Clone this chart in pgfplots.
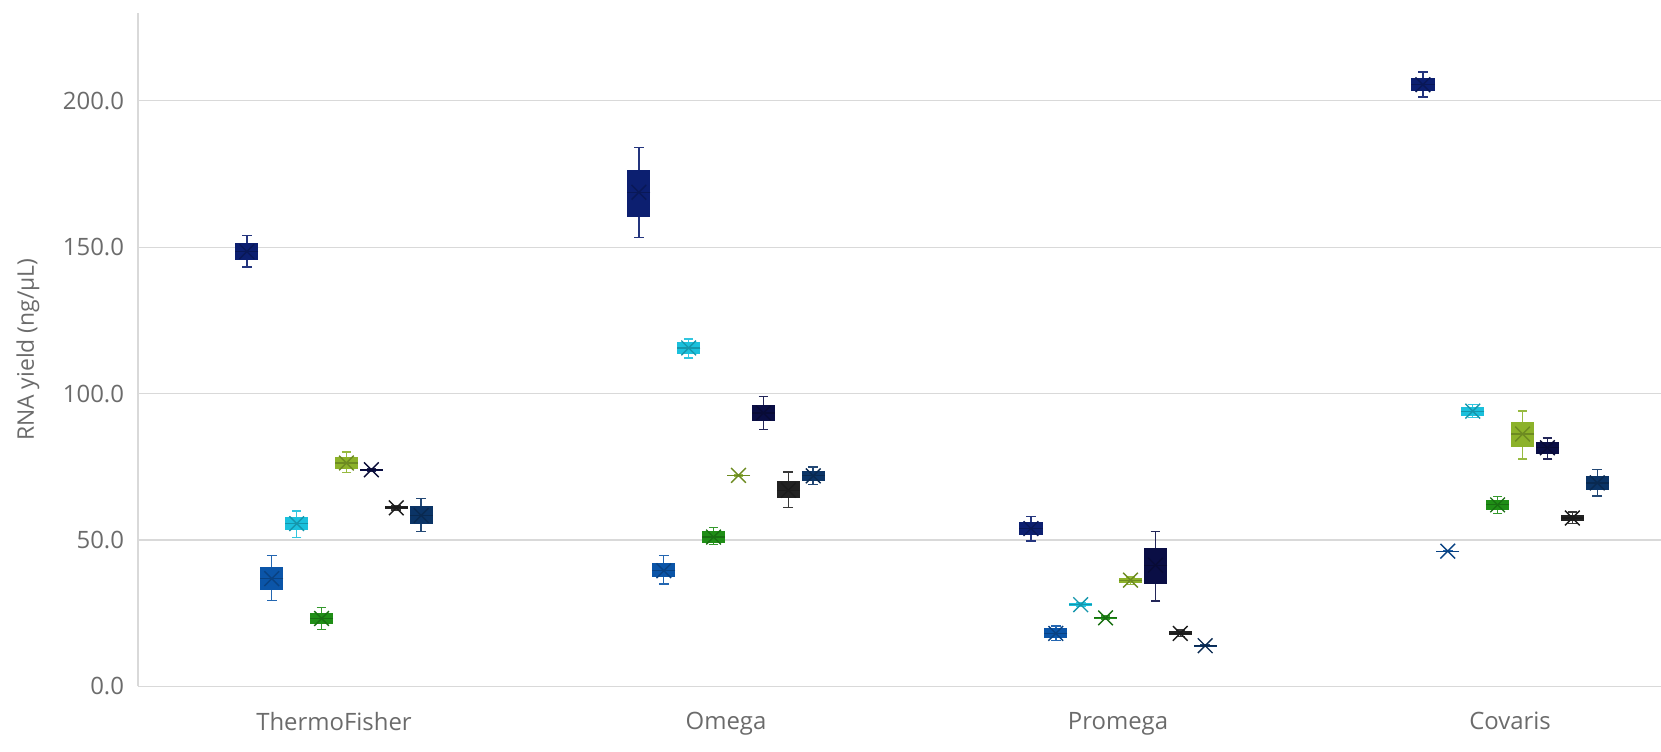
\documentclass[border=0pt]{standalone}
\usepackage{fontspec}
\setmainfont{Open Sans}
\usepackage{pgfplots}
\usepackage{pgfplotstable}
\pgfplotsset{compat=1.18}
\definecolor{cA}{HTML}{0C1F70}
\definecolor{cB}{HTML}{0B55A8}
\definecolor{cC}{HTML}{1BC0DC}
\definecolor{cD}{HTML}{1F8E16}
\definecolor{cE}{HTML}{8CB22A}
\definecolor{cF}{HTML}{0A0E45}
\definecolor{cG}{HTML}{222222}
\definecolor{cH}{HTML}{0B3466}
\definecolor{txt}{HTML}{6B6B6B}
\definecolor{grd}{HTML}{D9D9D9}
% one table per series: position, lower whisker, lower quartile, median, upper quartile, upper whisker, mean
\pgfplotstableread{
x lw lq med uq uw avg
-0.2223 143.2 145.8 148.5 151.4 154.1 148.5
0.7777 153.3 160.4 168.8 176.3 184.0 168.8
1.7777 49.7 51.6 53.9 56.0 58.1 53.9
2.7777 201.3 203.3 205.5 207.8 209.9 205.5
}\tA
\pgfplotstableread{
x lw lq med uq uw avg
-0.1588 29.4 32.9 36.8 40.8 44.8 36.8
0.8412 35.0 37.2 39.5 42.2 44.8 39.5
1.8412 15.6 16.4 18.1 19.8 20.6 18.1
2.8412 46.0 46.1 46.2 46.3 46.4 46.2
}\tB
\pgfplotstableread{
x lw lq med uq uw avg
-0.0953 50.8 53.3 55.6 57.8 59.9 55.6
0.9047 112.2 113.7 115.6 117.5 118.6 115.6
1.9047 27.2 27.5 27.9 28.4 28.7 27.9
2.9047 91.8 92.4 94.0 95.5 96.2 94.0
}\tC
\pgfplotstableread{
x lw lq med uq uw avg
-0.0318 19.5 21.3 23.2 25.1 27.0 23.2
0.9682 48.4 49.1 51.0 53.1 54.2 51.0
1.9682 22.8 23.0 23.4 23.8 24.0 23.4
2.9682 59.0 60.1 62.0 63.8 64.9 62.0
}\tD
\pgfplotstableread{
x lw lq med uq uw avg
0.0318 73.0 74.3 76.3 78.5 80.0 76.3
1.0318 71.9 72.0 72.1 72.2 72.3 72.1
2.0318 34.9 35.3 36.3 37.0 37.4 36.3
3.0318 77.7 81.9 86.2 90.2 94.0 86.2
}\tE
\pgfplotstableread{
x lw lq med uq uw avg
0.0953 73.6 73.9 74.0 74.1 74.4 74.0
1.0953 87.7 90.5 93.4 96.2 99.0 93.4
2.0953 29.2 35.1 41.4 47.4 53.0 41.4
3.0953 77.7 79.4 81.5 83.4 84.9 81.5
}\tF
\pgfplotstableread{
x lw lq med uq uw avg
0.1588 60.2 60.6 61.0 61.5 61.8 61.0
1.1588 61.0 64.2 67.0 70.1 73.2 67.0
2.1588 17.0 17.4 18.1 18.8 19.3 18.1
3.1588 55.6 56.5 57.5 58.5 59.5 57.5
}\tG
\pgfplotstableread{
x lw lq med uq uw avg
0.2223 53.0 55.6 58.4 61.5 64.1 58.4
1.2223 68.9 70.3 71.9 73.5 74.9 71.9
2.2223 13.6 13.8 13.9 14.0 14.2 13.9
3.2223 65.0 67.1 69.5 71.8 74.0 69.5
}\tH
% #1 table, #2 colour
\newcommand{\series}[2]{%
% whiskers with caps
\addplot[draw=none, mark=none,
  error bars/.cd, y dir=both, y explicit, error mark=|,
  error mark options={draw=#2!90!white, line width=0.7pt, mark size=2.4bp},
  error bar style={draw=#2!90!white, line width=0.7pt}]
  table[x=x, y=med, y error plus expr=\thisrow{uw}-\thisrow{med}, y error minus expr=\thisrow{med}-\thisrow{lw}] {#1};
% box from lower to upper quartile
\addplot[draw=none, mark=none,
  error bars/.cd, y dir=both, y explicit, error mark=none,
  error bar style={draw=#2, line width=11.6bp}]
  table[x=x, y=med, y error plus expr=\thisrow{uq}-\thisrow{med}, y error minus expr=\thisrow{med}-\thisrow{lq}] {#1};
% median line
\addplot[only marks, mark=-, mark size=5.8bp, mark options={draw=#2!78!black, line width=0.6pt}]
  table[x=x, y=med] {#1};
% mean cross
\addplot[only marks, mark=x, mark size=5.2bp, mark options={draw=#2!78!black, line width=0.7pt}]
  table[x=x, y=avg] {#1};
}
\begin{document}
\begin{tikzpicture}
\useasboundingbox (0,0) rectangle (830.5bp,376bp);
\begin{axis}[
  at={(69bp,32.8bp)}, anchor=south west,
  scale only axis, width=761.5bp, height=336.7bp,
  xmin=-0.5, xmax=3.385, ymin=0, ymax=230,
  axis x line=bottom, axis y line=left,
  axis line style={draw=grd, line width=0.6pt, -},
  xtick={0,1,2,3}, xticklabels={ThermoFisher,Omega,Promega,Covaris},
  ytick={0,50,100,150,200},
  major tick length=0pt,
  ymajorgrids, grid style={draw=grd, line width=0.6pt},
  /pgf/number format/assume math mode=true,
  yticklabel={\pgfmathprintnumber[fixed,fixed zerofill,precision=1]{\tick}},
  tick label style={font=\fontsize{12}{14}\selectfont, text=txt},
  yticklabel style={xshift=-3.5bp},
  xticklabel style={yshift=-9.5bp},
  ylabel={RNA yield (ng/µL)},
  every axis y label/.style={at={(axis description cs:-0.0722,0.5)}, rotate=90, anchor=center,
    font=\fontsize{11.5}{13}\selectfont, text=txt},
]
\series{\tA}{cA}
\series{\tB}{cB}
\series{\tC}{cC}
\series{\tD}{cD}
\series{\tE}{cE}
\series{\tF}{cF}
\series{\tG}{cG}
\series{\tH}{cH}
\end{axis}
\end{tikzpicture}
\end{document}
